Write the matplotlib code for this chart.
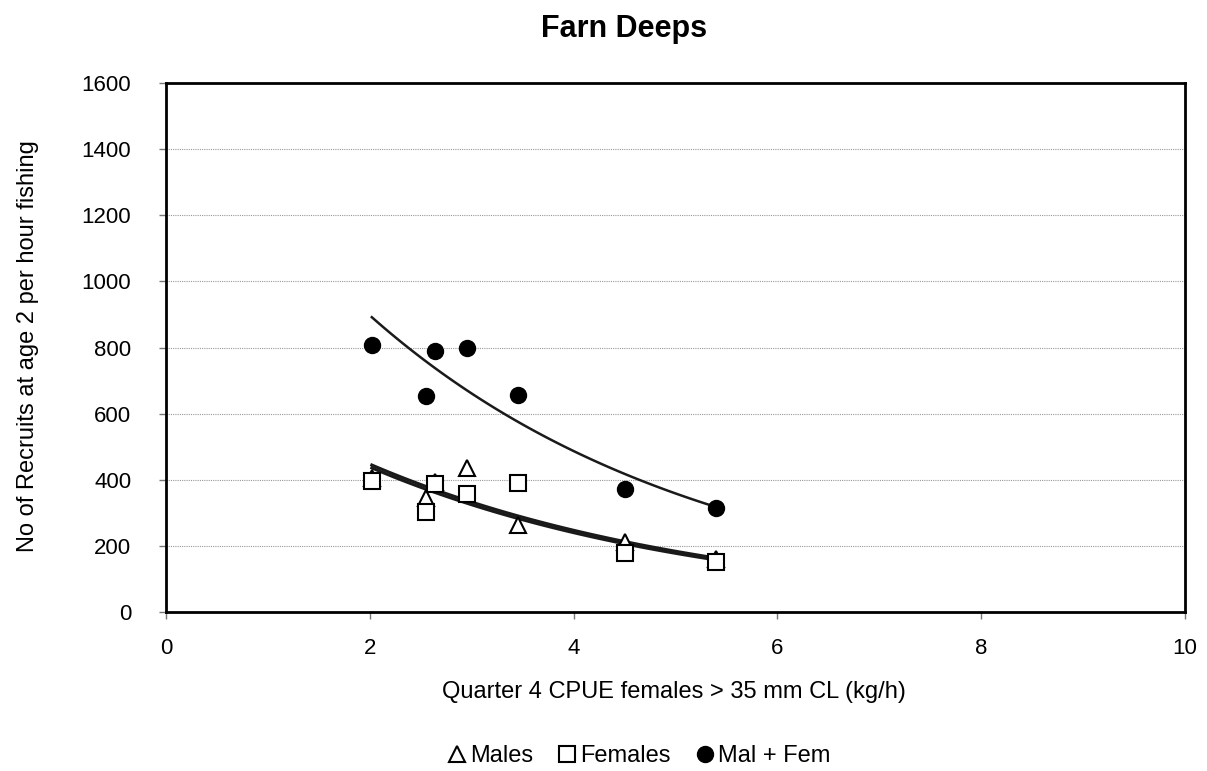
import numpy as np
import matplotlib.pyplot as plt

plt.rcParams["font.family"] = ["Liberation Sans", "DejaVu Sans"]

# Quarter 4 CPUE of females > 35 mm CL (kg/h)
cpue = [2.02, 2.55, 2.64, 2.95, 3.45, 4.50, 5.40]

# Recruits at age 2 per hour fishing
males = [405, 345, 392, 436, 264, 212, 160]
females = [397, 303, 388, 358, 391, 179, 152]
mal_fem = [809, 652, 788, 800, 655, 373, 315]


def fit_exp(x, y):
    # exponential trendline y = a * exp(b * x), fitted on log y
    b, ln_a = np.polyfit(x, np.log(y), 1)
    return np.exp(ln_a), b


fig = plt.figure(figsize=(12.07, 7.71), dpi=100)
ax = fig.add_axes([0.1375, 0.2062, 0.8443, 0.6861])

x = np.array(cpue)
t = np.linspace(x.min(), x.max(), 100)
for y, lw in [(males, 2.2), (females, 2.2), (mal_fem, 1.8)]:
    a, b = fit_exp(x, np.array(y))
    ax.plot(t, a * np.exp(b * t), color="#1a1a1a", lw=lw, zorder=2)

ax.plot(cpue, males, ls="none", marker="^", ms=11, mfc="white", mec="black",
        mew=1.5, label="Males", zorder=3)
ax.plot(cpue, females, ls="none", marker="s", ms=11, mfc="white", mec="black",
        mew=1.5, label="Females", zorder=4)
ax.plot(cpue, mal_fem, ls="none", marker="o", ms=11.5, color="black",
        label="Mal + Fem", zorder=5)

ax.set_xlim(0, 10)
ax.set_ylim(0, 1600)
ax.set_xticks(range(0, 11, 2))
ax.set_yticks(range(0, 1601, 200))
ax.grid(axis="y", color="#999999", ls=(0, (1, 1)), lw=0.8)
ax.set_axisbelow(True)
for s in ax.spines.values():
    s.set_linewidth(2)
ax.tick_params(labelsize=16, length=5, width=1, color="#777777")
ax.tick_params(axis="x", pad=14)
ax.tick_params(axis="y", pad=20)

fig.text(0.517, 0.962, "Farn Deeps", fontsize=22, fontweight="bold",
         ha="center", va="center")
fig.text(0.558, 0.103, "Quarter 4 CPUE females > 35 mm CL (kg/h)", fontsize=17,
         ha="center", va="center")
fig.text(0.023, 0.551, "No of Recruits at age 2 per hour fishing", fontsize=17,
         ha="center", va="center", rotation=90)

fig.legend(loc="center", bbox_to_anchor=(0.53, 0.019), ncol=3, frameon=False,
           fontsize=17, handlelength=0.7, handletextpad=0.2, columnspacing=1.1)

fig.savefig("out.png", dpi=100)
